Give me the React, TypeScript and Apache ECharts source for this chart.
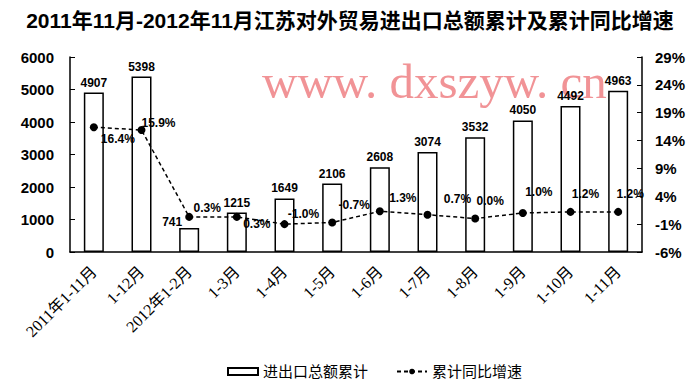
import React, { useEffect, useRef } from "react";
import * as echarts from "echarts";

const categories = [
  "2011年1-11月", "1-12月", "2012年1-2月", "1-3月", "1-4月", "1-5月",
  "1-6月", "1-7月", "1-8月", "1-9月", "1-10月", "1-11月",
];
const totals = [4907, 5398, 741, 1215, 1649, 2106, 2608, 3074, 3532, 4050, 4492, 4963];
const rates = [16.4, 15.9, 0.3, 0.3, -1.0, -0.7, 1.3, 0.7, 0.0, 1.0, 1.2, 1.2];
const leftTicks = [0, 1000, 2000, 3000, 4000, 5000, 6000];
const rightTicks = [-6, -1, 4, 9, 14, 19, 24, 29];
const rateLabelOffsets: [number, number][] = [
  [24, 12], [17, -7], [18, -9], [20, 7], [19, -10], [22, -17],
  [23, -13], [30, -16], [15, -18], [16, -21], [15, -18], [12, -18],
];
const totalLabelOffsets: [number, number][] = [
  [0, 0], [0, 0], [-17, 4], [0, 0], [0, 0], [0, 0],
  [0, 0], [0, 0], [0, 0], [0, 0], [0, 0], [0, 0],
];

const titleText = "2011年11月-2012年11月江苏对外贸易进出口总额累计及累计同比增速";
const watermark = "www. dxszyw. cn";

export default function App() {
  const ref = useRef<HTMLDivElement>(null);
  useEffect(() => {
    if (!ref.current) return;
    const chart = echarts.init(ref.current, null, { renderer: "svg" });
    const numFont = "Arial, 'Liberation Sans', sans-serif";
    const cjkSerif = "'Liberation Serif', 'Noto Sans CJK SC', serif";
    chart.setOption({
      animation: false,
      backgroundColor: "#ffffff",
      title: {
        text: titleText,
        left: "center",
        top: 5,
        textStyle: {
          fontSize: 21,
          fontWeight: "bold",
          color: "#000",
          fontFamily: "'Liberation Sans Narrow', Arial, 'Noto Sans CJK SC', sans-serif",
        },
      },
      graphic: [
        {
          type: "text",
          left: 262,
          top: 57,
          z: 0,
          silent: true,
          style: {
            text: watermark,
            fontSize: 49,
            fontFamily: "'Liberation Serif', 'Times New Roman', serif",
            fill: "rgba(238,128,132,0.85)",
          },
        },
      ],
      legend: {
        left: 222,
        top: 359,
        itemGap: 28,
        itemWidth: 30,
        itemHeight: 7,
        textStyle: { fontSize: 15, color: "#000", fontFamily: cjkSerif },
        data: [
          { name: "进出口总额累计", icon: "rect" },
          { name: "累计同比增速" },
        ],
      },
      grid: { left: 70, right: 58, top: 57, bottom: 132 },
      xAxis: {
        type: "category",
        data: categories,
        axisLine: { lineStyle: { color: "#000", width: 1.5 } },
        axisTick: { inside: true, length: 5, interval: 0, lineStyle: { color: "#000" } },
        axisLabel: {
          interval: 0,
          rotate: 45,
          margin: 17,
          fontSize: 16,
          color: "#000",
          fontFamily: cjkSerif,
        },
      },
      yAxis: [
        {
          type: "value",
          min: 0,
          max: 6000,
          interval: 1000,
          axisLine: { show: true, lineStyle: { color: "#000", width: 1.5 } },
          axisTick: { show: true, inside: true, length: 5, customValues: leftTicks, lineStyle: { color: "#000" } },
          axisLabel: {
            customValues: leftTicks,
            margin: 16,
            fontSize: 15,
            fontWeight: "bold",
            color: "#000",
            fontFamily: numFont,
            formatter: (v: number) => String(v),
          },
          splitLine: { show: false },
        },
        {
          type: "value",
          min: -6,
          max: 29,
          position: "right",
          axisLine: { show: true, lineStyle: { color: "#000", width: 1.5 } },
          axisTick: { show: true, inside: true, length: 5, customValues: rightTicks, lineStyle: { color: "#000" } },
          axisLabel: {
            customValues: rightTicks,
            margin: 13,
            fontSize: 15,
            fontWeight: "bold",
            color: "#000",
            fontFamily: numFont,
            formatter: (v: number) => `${v}%`,
          },
          splitLine: { show: false },
        },
      ],
      series: [
        {
          name: "进出口总额累计",
          type: "bar",
          barWidth: 20,
          yAxisIndex: 0,
          itemStyle: { color: "#fff", borderColor: "#000", borderWidth: 1.5 },
          data: totals.map((v, i) => ({
            value: v,
            label: { offset: totalLabelOffsets[i] },
          })),
          label: {
            show: true,
            position: "top",
            distance: 4,
            fontSize: 12,
            fontWeight: "bold",
            color: "#000",
            fontFamily: numFont,
          },
        },
        {
          name: "累计同比增速",
          type: "line",
          yAxisIndex: 1,
          symbol: "circle",
          symbolSize: 8,
          itemStyle: { color: "#000" },
          lineStyle: { color: "#000", width: 1.5, type: [4, 3] },
          data: rates.map((v, i) => ({
            value: v,
            label: { offset: rateLabelOffsets[i] },
          })),
          label: {
            show: true,
            position: "inside",
            fontSize: 12,
            fontWeight: "bold",
            color: "#000",
            fontFamily: numFont,
            formatter: (p: any) => `${Number(p.value).toFixed(1)}%`,
          },
          z: 5,
        },
      ],
    });
    return () => chart.dispose();
  }, []);
  return (
    <div
      ref={ref}
      style={{ position: "fixed", left: 0, top: 0, width: 700, height: 384 }}
    />
  );
}
